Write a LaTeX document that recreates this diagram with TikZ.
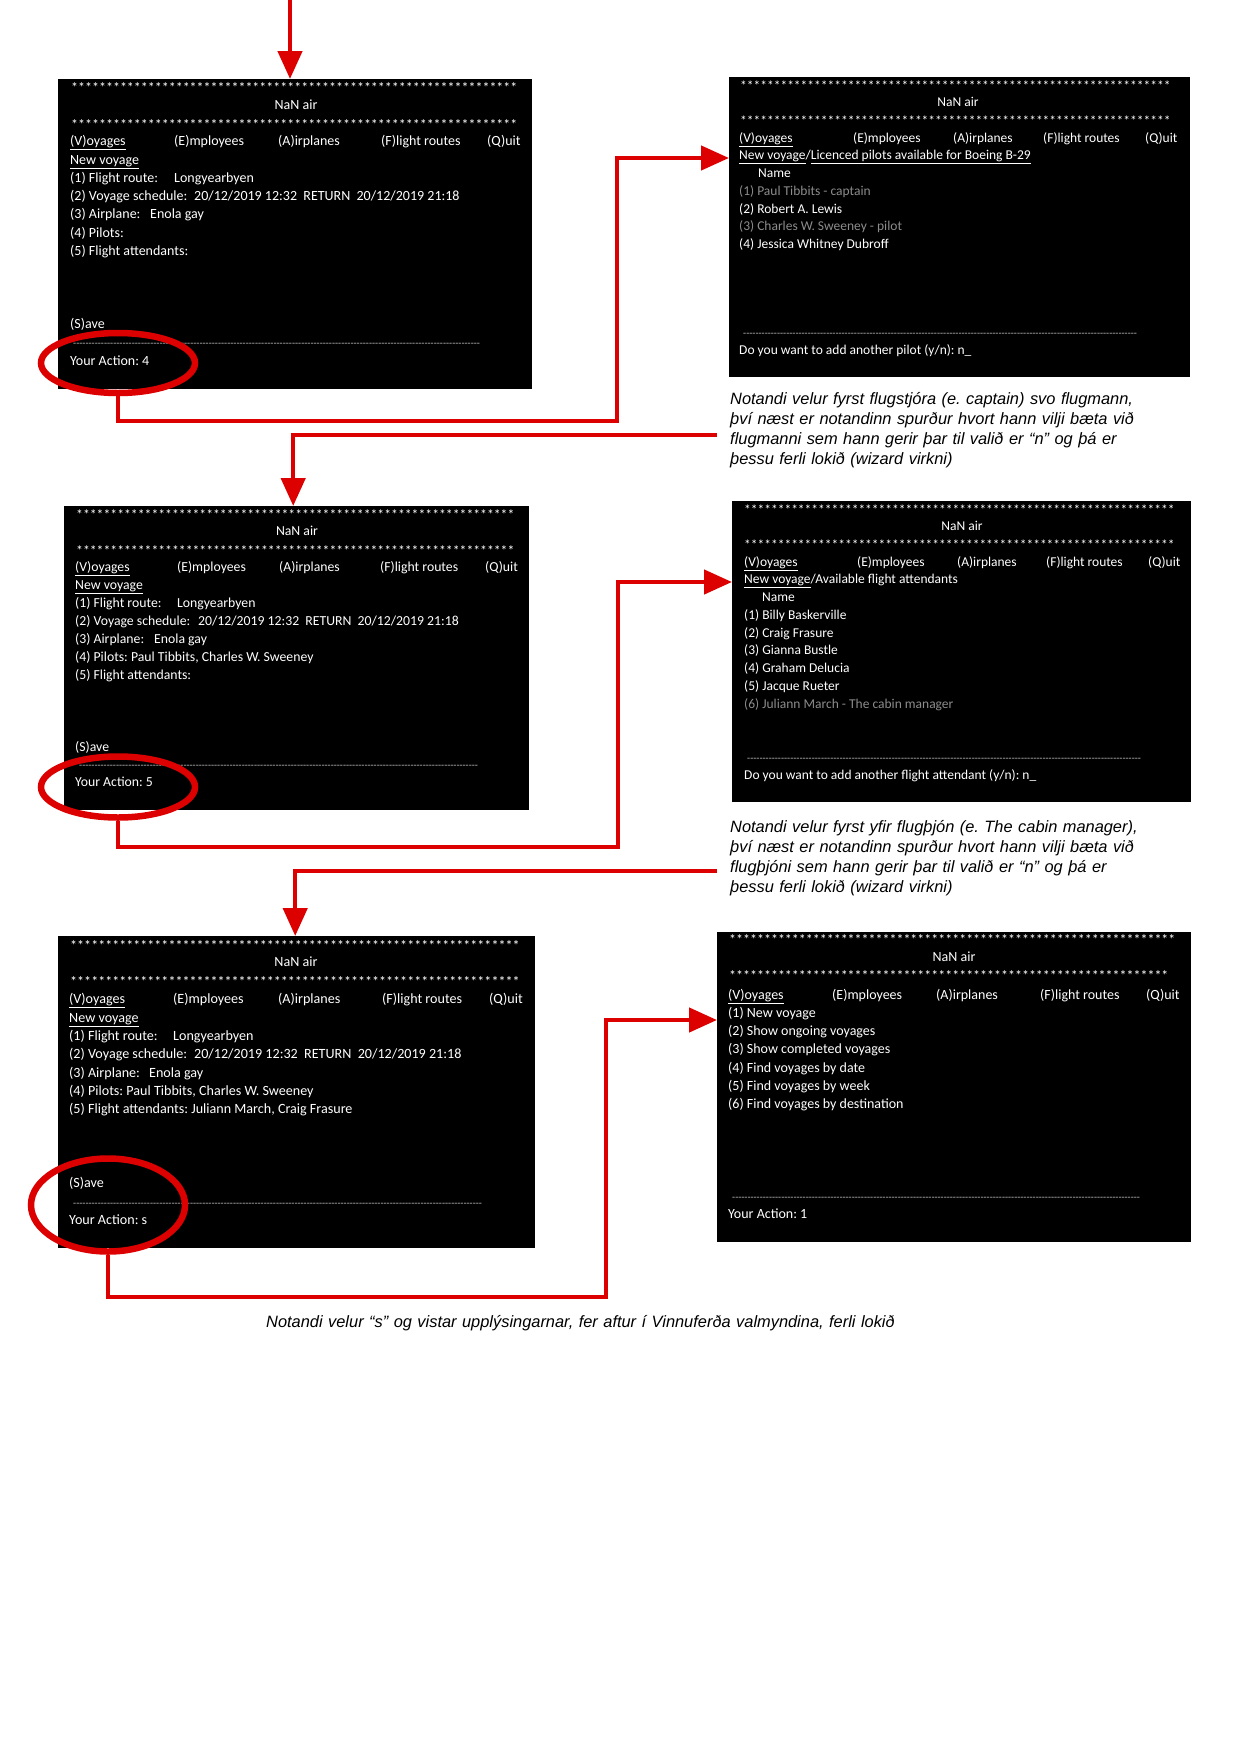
\documentclass[tikz,border=0pt]{standalone}
\usepackage{fontspec}
\setmainfont{Carlito}
\newfontfamily\capfont{Liberation Sans}
\usetikzlibrary{arrows.meta,shapes.geometric,calc}
\definecolor{ared}{RGB}{220,0,0}
\definecolor{dimtxt}{RGB}{140,140,140}
\definecolor{dashcol}{RGB}{200,200,200}
\newcount\tnum
\newcount\starcnt
\newcommand\scrfont[1]{\fontsize{#1bp}{#1bp}\selectfont}
\newcommand\capsize{\fontsize{16.4bp}{20bp}\selectfont}
\newcommand\stars[1]{\starcnt=0 \loop\ifnum\starcnt<#1 *\advance\starcnt by 1 \repeat}
\newcommand\tline[4][]{\global\advance\tnum by 1 \node[txt,#1] (t\the\tnum) at (#2,#3) {#4};}
\newcommand\dline[3]{\tline[font=\scrfont{10},text=dashcol]{#1}{#2}{\hbox to #3bp{\xleaders\hbox{-}\hfill}}}
\frenchspacing
\tikzset{
  screen/.style={fill=black, draw=none, anchor=north west, inner sep=0},
  txt/.style={anchor=west, inner sep=0, text=white, text height=9.5bp, text depth=2.5bp},
  dim/.style={text=dimtxt},
  conn/.style={draw=ared, line width=4.5bp},
  arr/.style={conn, -{Triangle[length=28bp,width=24bp]}},
  ring/.style={ellipse, draw=ared, line width=6.5bp, inner sep=0, minimum width=154bp},
  caption/.style={anchor=base west, inner sep=0, text width=520bp, align=left, font=\capfont\itshape\capsize\frenchspacing}
}
\begin{document}
\begin{tikzpicture}[x=1bp,y=-1bp]
\useasboundingbox (0,0) rectangle (1241,1754);
\fill[white] (0,0) rectangle (1241,1754);

% ---------- screens ----------
\node[screen, minimum width=474bp, minimum height=310bp] (b1) at (58,79) {};
\node[screen, minimum width=461bp, minimum height=300bp] (b2) at (729,77) {};
\node[screen, minimum width=465bp, minimum height=304bp] (b3) at (64,506) {};
\node[screen, minimum width=459bp, minimum height=301bp] (b4) at (732,501) {};
\node[screen, minimum width=477bp, minimum height=312bp] (b5) at (58,936) {};
\node[screen, minimum width=474bp, minimum height=310bp] (b6) at (717,932) {};

% ---------- screen 1 ----------
\begin{scope}[font=\scrfont{14}]
\tline{71}{88.5}{\stars{64}}
\tline[anchor=center]{296}{106}{NaN air}
\tline{71}{125.5}{\stars{64}}
\tline{70}{142}{\underline{(V)oyages}}
\tline{174}{142}{(E)mployees}
\tline{278}{142}{(A)irplanes}
\tline{381}{142}{(F)light routes}
\tline{487}{142}{(Q)uit}
\tline{70}{161}{\underline{New voyage}}
\tline{70}{179}{(1) Flight route:}
\tline{174}{179}{Longyearbyen}
\tline{70}{197}{(2) Voyage schedule:}
\tline{194}{197}{20/12/2019 12:32\ \ RETURN\ \ 20/12/2019 21:18}
\tline{70}{215}{(3) Airplane:}
\tline{150}{215}{Enola gay}
\tline{70}{234}{(4) Pilots:}
\tline{70}{252}{(5) Flight attendants:}
\tline{70}{325}{(S)ave}
\dline{73}{343}{407}
\tline{70}{362}{Your Action: 4}
\end{scope}

% ---------- screen 2 ----------
\begin{scope}[font=\scrfont{13.5}]
\tline{740}{86.5}{\stars{64}}
\tline[anchor=center]{958}{103}{NaN air}
\tline{740}{121.5}{\stars{64}}
\tline{739}{139}{\underline{(V)oyages}}
\tline{853}{139}{(E)mployees}
\tline{953}{139}{(A)irplanes}
\tline{1043}{139}{(F)light routes}
\tline{1145}{139}{(Q)uit}
\tline{739}{156}{\underline{New voyage}/\underline{Licenced pilots available for Boeing B-29}}
\tline{758}{174}{Name}
\tline[dim]{739}{192}{(1) Paul Tibbits - captain}
\tline{739}{210}{(2) Robert A. Lewis}
\tline[dim]{739}{227}{(3) Charles W. Sweeney - pilot}
\tline{739}{245}{(4) Jessica Whitney Dubroff}
\dline{743}{333}{394}
\tline{739}{351}{Do you want to add another pilot (y/n): n\_}
\end{scope}

% ---------- screen 3 ----------
\begin{scope}[font=\scrfont{13.75}]
\tline{76}{515.5}{\stars{64}}
\tline[anchor=center]{297}{532}{NaN air}
\tline{76}{551.5}{\stars{64}}
\tline{75}{568}{\underline{(V)oyages}}
\tline{177}{568}{(E)mployees}
\tline{279}{568}{(A)irplanes}
\tline{380}{568}{(F)light routes}
\tline{485}{568}{(Q)uit}
\tline{75}{586}{\underline{New voyage}}
\tline{75}{604}{(1) Flight route:}
\tline{177}{604}{Longyearbyen}
\tline{75}{622}{(2) Voyage schedule:}
\tline{198}{622}{20/12/2019 12:32\ \ RETURN\ \ 20/12/2019 21:18}
\tline{75}{640}{(3) Airplane:}
\tline{154}{640}{Enola gay}
\tline{75}{658}{(4) Pilots: Paul Tibbits, Charles W. Sweeney}
\tline{75}{676}{(5) Flight attendants:}
\tline{75}{748}{(S)ave}
\dline{79}{765}{399}
\tline{75}{783}{Your Action: 5}
\end{scope}

% ---------- screen 4 ----------
\begin{scope}[font=\scrfont{13.5}]
\tline{744}{510.5}{\stars{64}}
\tline[anchor=center]{962}{527}{NaN air}
\tline{744}{545.5}{\stars{64}}
\tline{744}{563}{\underline{(V)oyages}}
\tline{857}{563}{(E)mployees}
\tline{957}{563}{(A)irplanes}
\tline{1046}{563}{(F)light routes}
\tline{1148}{563}{(Q)uit}
\tline{744}{580}{\underline{New voyage}/Available flight attendants}
\tline{762}{598}{Name}
\tline{744}{616}{(1) Billy Baskerville}
\tline{744}{634}{(2) Craig Frasure}
\tline{744}{651}{(3) Gianna Bustle}
\tline{744}{669}{(4) Graham Delucia}
\tline{744}{687}{(5) Jacque Rueter}
\tline[dim]{744}{705}{(6) Juliann March - The cabin manager}
\dline{747}{758}{394}
\tline{744}{776}{Do you want to add another flight attendant (y/n): n\_}
\end{scope}

% ---------- screen 5 ----------
\begin{scope}[font=\scrfont{14.1}]
\tline{70}{946.5}{\stars{64}}
\tline[anchor=center]{296}{963}{NaN air}
\tline{70}{982.5}{\stars{64}}
\tline{69}{1000}{\underline{(V)oyages}}
\tline{173}{1000}{(E)mployees}
\tline{278}{1000}{(A)irplanes}
\tline{382}{1000}{(F)light routes}
\tline{489}{1000}{(Q)uit}
\tline{69}{1019}{\underline{New voyage}}
\tline{69}{1037}{(1) Flight route:}
\tline{173}{1037}{Longyearbyen}
\tline{69}{1055}{(2) Voyage schedule:}
\tline{194}{1055}{20/12/2019 12:32\ \ RETURN\ \ 20/12/2019 21:18}
\tline{69}{1074}{(3) Airplane:}
\tline{149}{1074}{Enola gay}
\tline{69}{1092}{(4) Pilots: Paul Tibbits, Charles W. Sweeney}
\tline{69}{1110}{(5) Flight attendants: Juliann March, Craig Frasure}
\tline{69}{1184}{(S)ave}
\dline{73}{1203}{409}
\tline{69}{1221}{Your Action: s}
\end{scope}

% ---------- screen 6 ----------
\begin{scope}[font=\scrfont{14}]
\tline{729}{940.5}{\stars{64}}
\tline[anchor=center]{954}{958}{NaN air}
\tline{729}{976.5}{\stars{63}}
\tline{728}{996}{\underline{(V)oyages}}
\tline{832}{996}{(E)mployees}
\tline{936}{996}{(A)irplanes}
\tline{1040}{996}{(F)light routes}
\tline{1146}{996}{(Q)uit}
\tline{728}{1014}{(1) New voyage}
\tline{728}{1032}{(2) Show ongoing voyages}
\tline{728}{1050}{(3) Show completed voyages}
\tline{728}{1069}{(4) Find voyages by date}
\tline{728}{1087}{(5) Find voyages by week}
\tline{728}{1105}{(6) Find voyages by destination}
\dline{732}{1197}{408}
\tline{728}{1215}{Your Action: 1}
\end{scope}

% ---------- captions ----------
\node[caption] (c1) at (730,404) {Notandi velur fyrst flugstjóra (e. captain) svo flugmann,\\
því næst er notandinn spurður hvort hann vilji bæta við\\
flugmanni sem hann gerir þar til valið er “n” og þá er\\
þessu ferli lokið (wizard virkni)};
\node[caption] (c2) at (730,832) {Notandi velur fyrst yfir flugþjón (e. The cabin manager),\\
því næst er notandinn spurður hvort hann vilji bæta við\\
flugþjóni sem hann gerir þar til valið er “n” og þá er\\
þessu ferli lokið (wizard virkni)};
\node[caption, text width=700bp] (c3) at (266,1327) {Notandi velur “s” og vistar upplýsingarnar, fer aftur í Vinnuferða valmyndina, ferli lokið};

% ---------- rings ----------
\node[ring, minimum height=60bp] (e1) at (118,363) {};
\node[ring, minimum height=61bp] (e2) at (118,787) {};
\node[ring, minimum height=93bp] (e3) at (108,1205) {};

% ---------- connectors ----------
\coordinate (top) at (290,0);
\coordinate (j1) at (617,421);
\coordinate (k1) at (717,435);
\coordinate (j2) at (618,847);
\coordinate (k2) at (717,871);
\coordinate (j3) at (606,1297);
\draw[arr] (top) -- (top |- b1.north);
\draw[arr] (e1.south) |- (j1) |- ($(b2.north west)+(0,81)$);
\draw[arr] (k1) -| ($(b3.north)+(-3.5,0)$);
\draw[arr] (e2.south) |- (j2) |- ($(b4.north west)+(0,81)$);
\draw[arr] (k2) -| ($(b5.north)+(-1.5,0)$);
\draw[arr] (e3.south) |- (j3) |- ($(b6.north west)+(0,88)$);
\end{tikzpicture}
\end{document}
